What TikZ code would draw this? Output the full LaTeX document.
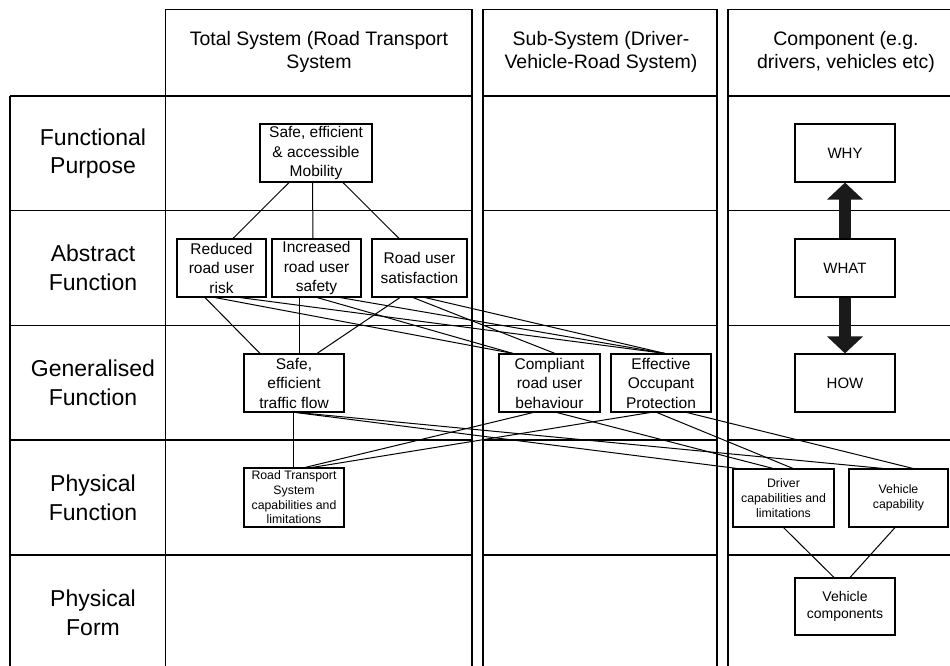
\documentclass[tikz,border=0pt]{standalone}
\usepackage{fontspec}
\setmainfont{Liberation Sans}
\usetikzlibrary{arrows.meta}
\definecolor{arrowblk}{HTML}{1A1A1A}
\begin{document}
\begin{tikzpicture}[x=1pt,y=-1pt,
  grid/.style={line width=1.1pt, draw=black},
  box/.style={draw, line width=1.1pt, inner sep=0pt, align=center, minimum height=58pt, font=\fontsize{15.5}{19.5}\selectfont},
  small/.style={font=\fontsize{12.3}{14.7}\selectfont},
  conn/.style={line width=1pt},
  bigarrow/.style={line width=12pt, draw=arrowblk, -{Triangle[width=35pt,length=17pt]}},
  rowlab/.style={align=center, font=\fontsize{23}{28.5}\selectfont, inner sep=0pt},
  colhead/.style={align=center, font=\fontsize{19.5}{23}\selectfont, inner sep=0pt}
]
\useasboundingbox (0,0) rectangle (950,666);
\fill[white] (0,0) rectangle (950,666);

% grid
\draw[grid] (10,680) -- (10,96);
\draw[grid] (165.5,680) -- (165.5,9.5) -- (472,9.5) -- (472,680);
\foreach \y in {96,210.5,325.5,440,555} \draw[grid] (10,\y) -- (472,\y);
\draw[grid] (483,680) -- (483,9.5) -- (717,9.5) -- (717,680);
\foreach \y in {96,210.5,325.5,440,555} \draw[grid] (483,\y) -- (717,\y);
\draw[grid] (728,680) -- (728,9.5) -- (960,9.5);
\foreach \y in {96,210.5,325.5,440,555} \draw[grid] (728,\y) -- (960,\y);

% headers
\node[colhead] (h1) at (319,52) {Total System (Road Transport\\System};
\node[colhead] (h2) at (601,52) {Sub-System (Driver-\\Vehicle-Road System)};
\node[colhead] (h3) at (846,52) {Component (e.g.\\drivers, vehicles etc)};

% row labels
\node[rowlab] (r1) at (93,153.5) {Functional\\Purpose};
\node[rowlab] (r2) at (93,268) {Abstract\\Function};
\node[rowlab] (r3) at (93,383) {Generalised\\Function};
\node[rowlab] (r4) at (93,498) {Physical\\Function};
\node[rowlab] (r5) at (93,613) {Physical\\Form};

% boxes
\node[box, minimum width=112pt] (mob) at (316,153) {Safe, efficient\\\& accessible\\Mobility};
\node[box, minimum width=89pt] (red) at (221.5,268) {Reduced\\road user\\risk};
\node[box, minimum width=89pt] (inc) at (316.5,268) {Increased\\road user\\safety};
\node[box, minimum width=95pt] (sat) at (419.5,268) {Road user\\satisfaction};
\node[box, minimum width=100pt] (flow) at (294,383) {Safe,\\efficient\\traffic flow};
\node[box, minimum width=101pt] (comp) at (549.5,383) {Compliant\\road user\\behaviour};
\node[box, minimum width=100pt] (eff) at (661,383) {Effective\\Occupant\\Protection};
\node[box, minimum width=100pt, font=\fontsize{15}{18}\selectfont] (why) at (845,153) {WHY};
\node[box, minimum width=100pt, font=\fontsize{15}{18}\selectfont] (what) at (845,268) {WHAT};
\node[box, minimum width=100pt, font=\fontsize{15}{18}\selectfont] (how) at (845,383) {HOW};
\node[box, small, minimum width=100pt, minimum height=59pt] (rts) at (294,497.5) {Road Transport\\System\\capabilities and\\limitations};
\node[box, small, minimum width=101pt] (drv) at (783.5,498) {Driver\\capabilities and\\limitations};
\node[box, small, minimum width=99pt] (veh) at (898.5,498) {Vehicle\\capability};
\node[box, minimum width=100pt, minimum height=57pt, font=\fontsize{14}{17}\selectfont] (vc) at (845,606.5) {Vehicle\\components};

% big arrows
\draw[bigarrow] (what.north) -- (why.south);
\draw[bigarrow] (what.south) -- (how.north);

% connectors: purpose -> abstract
\draw[conn] ([xshift=-27pt]mob.south) -- ([xshift=11.5pt]red.north);
\draw[conn] ([xshift=-3.5pt]mob.south) -- ([xshift=-3.5pt]inc.north);
\draw[conn] ([xshift=27pt]mob.south) -- ([xshift=-20.5pt]sat.north);

% abstract -> generalised
\draw[conn] ([xshift=-16.5pt]red.south) -- ([xshift=-34pt]flow.north);
\draw[conn] ([xshift=-17.5pt]inc.south) -- ([xshift=5pt]flow.north);
\draw[conn] ([xshift=-19.5pt]sat.south) -- ([xshift=23pt]flow.north);
\draw[conn] ([xshift=-6.5pt]red.south) -- ([xshift=-36.5pt]comp.north);
\draw[conn] ([xshift=18.5pt]red.south) -- ([xshift=4pt]eff.north);
\draw[conn] ([xshift=0.5pt]inc.south) -- ([xshift=-36.5pt]comp.north);
\draw[conn] ([xshift=23.5pt]inc.south) -- ([xshift=4pt]eff.north);
\draw[conn] ([xshift=-6.5pt]sat.south) -- ([xshift=5.5pt]comp.north);
\draw[conn] ([xshift=5.5pt]sat.south) -- ([xshift=4pt]eff.north);

% generalised -> physical function
\draw[conn] ([xshift=-1pt]flow.south) -- ([xshift=-1pt]rts.north);
\draw[conn] ([xshift=2pt]flow.south) -- ([xshift=-46.5pt]drv.north);
\draw[conn] ([xshift=4pt]flow.south) -- ([xshift=-15.5pt]veh.north);
\draw[conn] ([xshift=-16.5pt]comp.south) -- ([xshift=11pt]rts.north);
\draw[conn] ([xshift=7.5pt]comp.south) -- ([xshift=-10.5pt]drv.north);
\draw[conn] ([xshift=-11pt]eff.south) -- ([xshift=18pt]rts.north);
\draw[conn] ([xshift=-4pt]eff.south) -- ([xshift=9.5pt]drv.north);
\draw[conn] ([xshift=26pt]eff.south) -- ([xshift=14.5pt]veh.north);

% physical function -> physical form
\draw[conn] (drv.south) -- ([xshift=-11pt]vc.north);
\draw[conn] ([xshift=-3.5pt]veh.south) -- ([xshift=5pt]vc.north);
\end{tikzpicture}
\end{document}
